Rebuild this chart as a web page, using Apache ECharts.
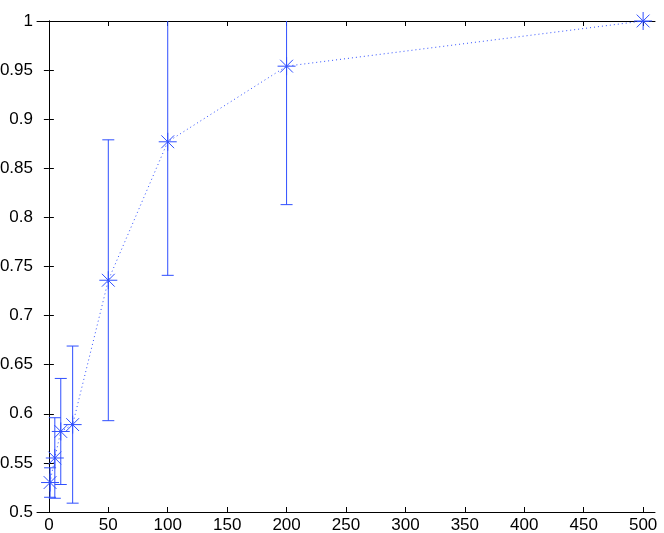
<!DOCTYPE html>
<html>
<head>
<meta charset="utf-8">
<script src="https://cdn.jsdelivr.net/npm/echarts@6/dist/echarts.min.js"></script>
<style>
  html, body { margin: 0; padding: 0; background: #fff; }
  #main { width: 664px; height: 533px; }
</style>
</head>
<body>
<div id="main"></div>
<script>
// data
var xVals = [1, 5, 10, 20, 50, 100, 200, 500];
var yVals = [0.530, 0.555, 0.582, 0.589, 0.736, 0.877, 0.954, 1.0];
var errVals = [0.015, 0.041, 0.054, 0.080, 0.143, 0.136, 0.141, 0];
var xTicks = [0, 50, 100, 150, 200, 250, 300, 350, 400, 450, 500];

var blue = '#2f4fff';

var lineData = [];
var barData = [];
for (var i = 0; i < xVals.length; i++) {
    lineData.push([xVals[i], yVals[i]]);
    barData.push([xVals[i], yVals[i], errVals[i]]);
}

function renderBar(params, api) {
    var x = api.value(0), y = api.value(1), e = api.value(2);
    var hi = api.coord([x, y + e]);
    var lo = api.coord([x, y - e]);
    var cap = 6;
    var st = { stroke: blue, lineWidth: 1 };
    return {
        type: 'group',
        children: [
            { type: 'line', shape: { x1: hi[0], y1: hi[1], x2: lo[0], y2: lo[1] }, style: st },
            { type: 'line', shape: { x1: hi[0] - cap, y1: hi[1], x2: hi[0] + cap, y2: hi[1] }, style: st },
            { type: 'line', shape: { x1: lo[0] - cap, y1: lo[1], x2: lo[0] + cap, y2: lo[1] }, style: st }
        ]
    };
}

// MATLAB style '*' marker
function renderStar(params, api) {
    var c = api.coord([api.value(0), api.value(1)]);
    var s = 9, d = 6.4;
    var st = { stroke: blue, lineWidth: 1 };
    return {
        type: 'group',
        children: [
            { type: 'line', shape: { x1: c[0] - s, y1: c[1], x2: c[0] + s, y2: c[1] }, style: st },
            { type: 'line', shape: { x1: c[0], y1: c[1] - s, x2: c[0], y2: c[1] + s }, style: st },
            { type: 'line', shape: { x1: c[0] - d, y1: c[1] - d, x2: c[0] + d, y2: c[1] + d }, style: st },
            { type: 'line', shape: { x1: c[0] - d, y1: c[1] + d, x2: c[0] + d, y2: c[1] - d }, style: st }
        ]
    };
}

var myChart = echarts.init(document.getElementById('main'));
var axisFont = { fontFamily: 'Liberation Sans', fontSize: 17, color: '#000' };
var option = {
    backgroundColor: '#fff',
    animation: false,
    grid: { left: 37, top: 21, right: 9, bottom: 21, containLabel: false, outerBoundsMode: 'none' },
    xAxis: [
        {
            type: 'value', position: 'bottom', min: -10, max: 510,
            axisLine: { lineStyle: { color: '#000', width: 1 } },
            axisTick: { inside: true, length: 5, customValues: xTicks, lineStyle: { color: '#000' } },
            axisLabel: Object.assign({ margin: 5, customValues: xTicks }, axisFont),
            splitLine: { show: false }
        },
        {
            type: 'value', position: 'top', min: -10, max: 510,
            axisLine: { lineStyle: { color: '#000', width: 1 } },
            axisTick: { inside: true, length: 5, customValues: xTicks, lineStyle: { color: '#000' } },
            axisLabel: { show: false },
            splitLine: { show: false }
        }
    ],
    yAxis: [
        {
            type: 'value', position: 'left', min: 0.5, max: 1, interval: 0.05,
            axisLine: { show: true, lineStyle: { color: '#000', width: 1 } },
            axisTick: { show: true, inside: true, length: 5, lineStyle: { color: '#000' } },
            axisLabel: Object.assign({ margin: 4 }, axisFont),
            splitLine: { show: false }
        },
        {
            type: 'value', position: 'right', min: 0.5, max: 1, interval: 0.05,
            axisLine: { show: true, lineStyle: { color: '#000', width: 1 } },
            axisTick: { show: true, inside: true, length: 5, lineStyle: { color: '#000' } },
            axisLabel: { show: false },
            splitLine: { show: false }
        }
    ],
    series: [
        {
            type: 'line',
            data: lineData,
            symbol: 'none',
            lineStyle: { color: blue, width: 1, type: [1, 3] },
            z: 2
        },
        {
            type: 'custom',
            renderItem: renderBar,
            data: barData,
            clip: true,
            z: 3
        },
        {
            type: 'custom',
            renderItem: renderStar,
            data: lineData,
            clip: false,
            z: 4
        }
    ]
};
myChart.setOption(option);
</script>
</body>
</html>
